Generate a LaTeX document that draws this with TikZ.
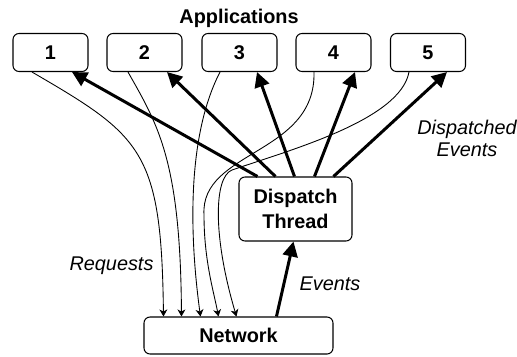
\documentclass[tikz,border=0pt]{standalone}
\usepackage{fontspec}
\setmainfont{Liberation Sans}
\usepackage{tikz}
\usetikzlibrary{arrows.meta,calc}

\begin{document}
\begin{tikzpicture}[
  box/.style={draw, rounded corners=0.12cm, line width=0.6pt, inner sep=0cm, align=center, font=\fontsize{11.3}{14.2}\selectfont\bfseries},
  note/.style={inner sep=0cm, align=center, font=\fontsize{11.3}{12.5}\selectfont\itshape},
  request/.style={line width=0.5pt, -{Stealth[length=4pt,width=4.5pt,inset=1.2pt]}},
  event/.style={line width=1.7pt, -{Triangle[length=8.5pt,width=8.5pt]}}
]
\useasboundingbox (0cm,0cm) rectangle (10.34cm,-7.12cm);
\node[font=\fontsize{11.3}{14}\selectfont\bfseries] (apps) at (4.78cm,-0.36cm) {Applications};
\node[box, minimum width=1.5cm, minimum height=0.76cm] (app1) at (1.01cm,-1.05cm) {1};
\node[box, minimum width=1.5cm, minimum height=0.76cm] (app2) at (2.89cm,-1.05cm) {2};
\node[box, minimum width=1.5cm, minimum height=0.76cm] (app3) at (4.79cm,-1.05cm) {3};
\node[box, minimum width=1.5cm, minimum height=0.76cm] (app4) at (6.67cm,-1.05cm) {4};
\node[box, minimum width=1.5cm, minimum height=0.76cm] (app5) at (8.56cm,-1.05cm) {5};
\node[box, minimum width=2.26cm, minimum height=1.28cm] (dispatch) at (5.91cm,-4.18cm) {Dispatch\\Thread};
\node[box, minimum width=3.78cm, minimum height=0.74cm] (network) at (4.77cm,-6.71cm) {Network};
\node[note] (dispatched) at (9.34cm,-2.76cm) {Dispatched\\Events};
\node[note] (requests) at (2.23cm,-5.32cm) {Requests};
\node[note] (events) at (6.6cm,-5.68cm) {Events};
\coordinate (bend4) at (4.08cm,-4.30cm);
\coordinate (bend5) at (4.64cm,-3.40cm);
% requests
\draw[request] ([xshift=-0.37cm]app1.south) .. controls +(2.2,-1.28) and +(-0.04,3.32) .. ([xshift=0.40cm]network.north west);
\draw[request] ([xshift=-0.33cm]app2.south) .. controls +(0.6,-1.06) and +(-0.02,3.12) .. ([xshift=0.76cm]network.north west);
\draw[request] ([xshift=-0.39cm]app3.south) .. controls +(-0.6,-1.16) and +(-0.26,1.92) .. ([xshift=1.14cm]network.north west);
\draw[request] ([xshift=-0.39cm]app4.south) .. controls +(0.04,-1.66) and +(-0.08,1.3) .. (bend4) .. controls +(0,-0.9) and +(-0.1,0.52) .. ([xshift=1.50cm]network.north west);
\draw[request] ([xshift=-0.38cm]app5.south) .. controls +(-0.18,-0.96) and +(1.16,0.4) .. (bend5) .. controls +(-0.36,-0.14) and +(-0.48,1.62) .. ([xshift=1.86cm]network.north west);
% events
\draw[event] ([xshift=0.38cm]dispatch.north west) -- ([xshift=0.43cm]app1.south);
\draw[event] ([xshift=0.74cm]dispatch.north west) -- ([xshift=0.45cm]app2.south);
\draw[event] ([xshift=1.12cm]dispatch.north west) -- ([xshift=0.35cm]app3.south);
\draw[event] ([xshift=1.52cm]dispatch.north west) -- ([xshift=0.43cm]app4.south);
\draw[event] ([xshift=1.90cm]dispatch.north west) -- ([xshift=0.38cm]app5.south);
\draw[event] ([xshift=2.66cm]network.north west) -- ([xshift=1.10cm]dispatch.south west);
\end{tikzpicture}
\end{document}
